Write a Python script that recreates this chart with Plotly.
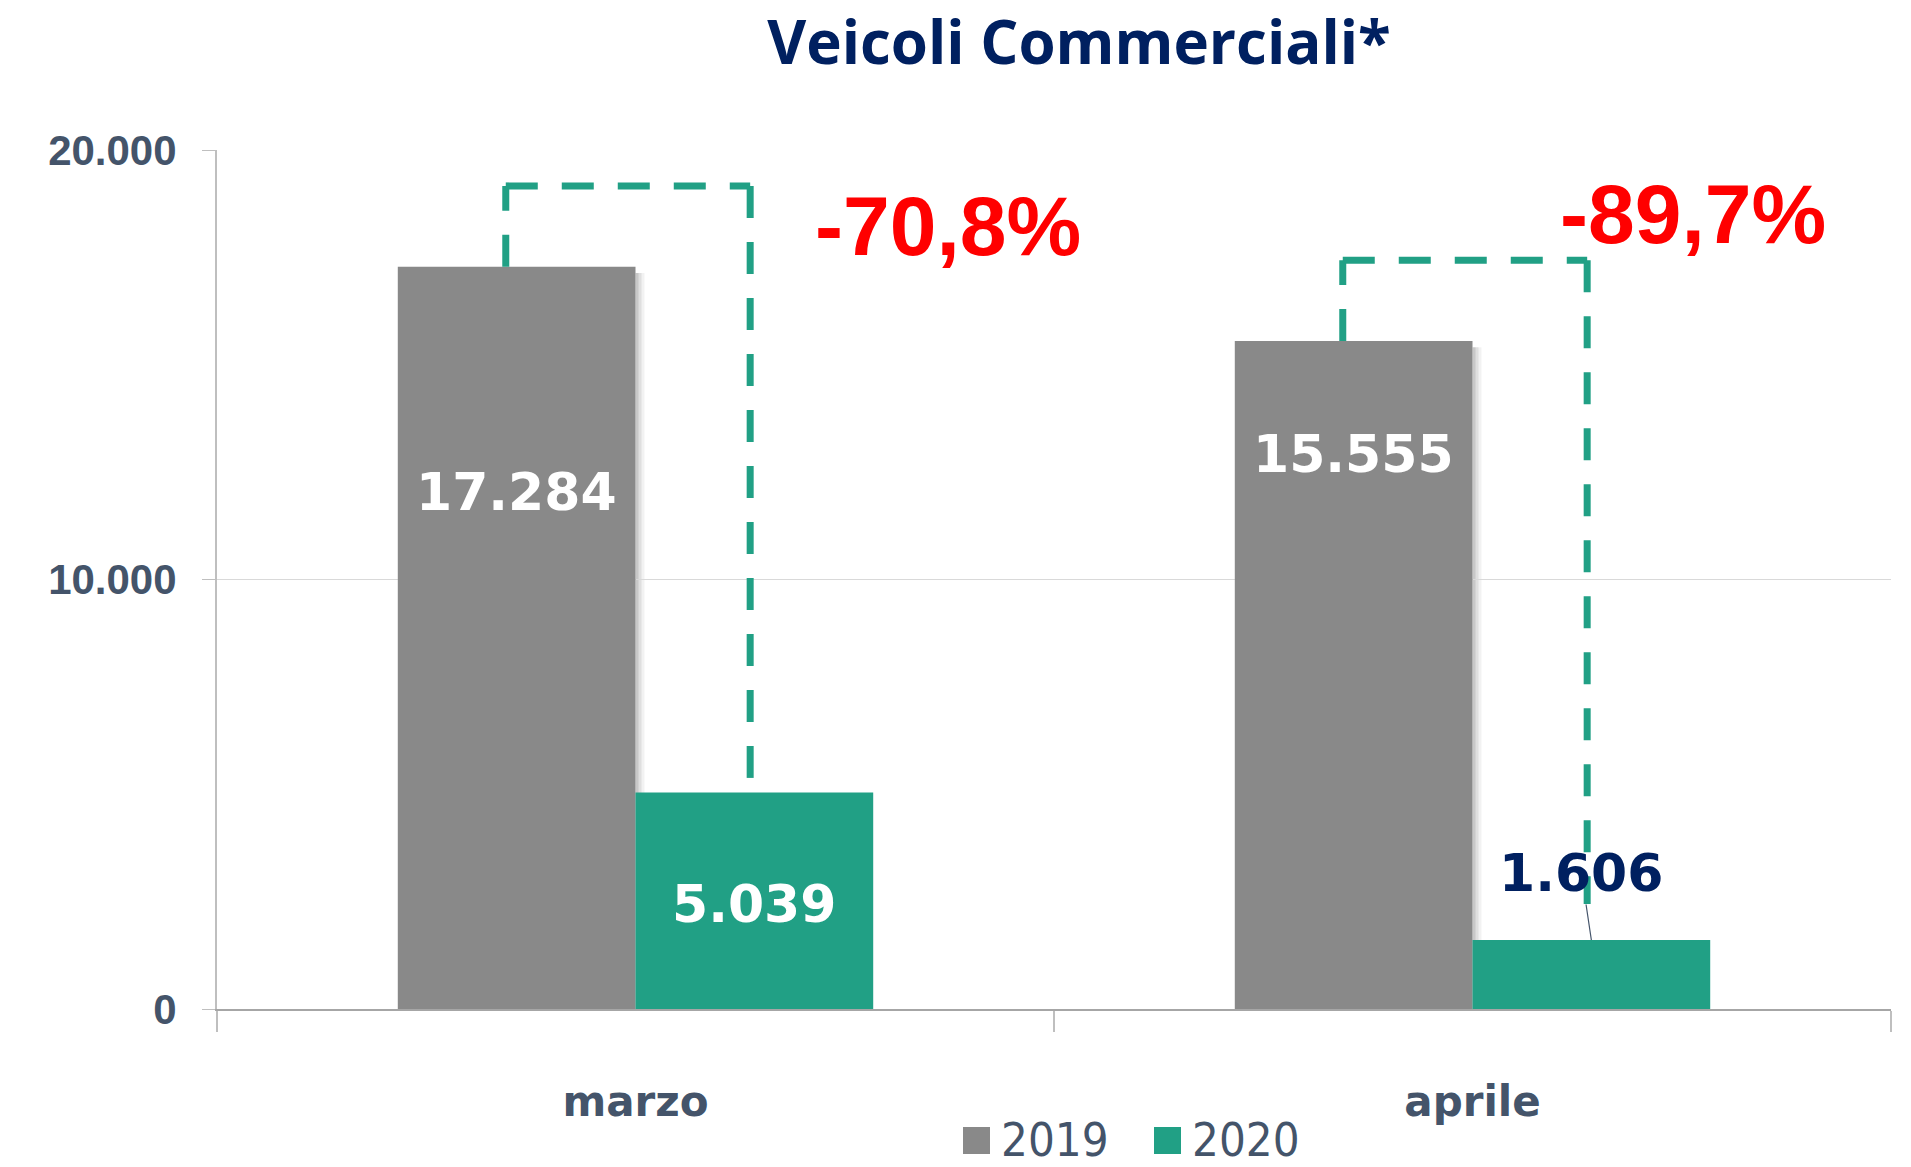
import plotly.graph_objects as go

# ---------------- data ----------------
categories = ["marzo", "aprile"]
series_names = ["2019", "2020"]
values_2019 = [17284, 15555]
values_2020 = [5039, 1606]
y_ticks = [0, 10000, 20000]
title_text = "Veicoli Commerciali*"

# ---------------- style ----------------
GRAY = "#898989"
TEAL = "#21A085"
NAVY = "#002060"
SLATE = "#44546A"
RED = "#FF0000"
series_colors = [GRAY, TEAL]

W, H = 1911, 1167
ML, MR, MT, MB = 217, 20, 150, 158
BARGAP = 0.432
HALF = (1 - BARGAP) / 4          # offset of each bar centre from category centre
BRACKET_RISE = 1880              # how far the dashed bracket sits above the 2019 bar
BRACKET_SHIFT_L = -0.013         # small horizontal nudges of the bracket legs
BRACKET_SHIFT_R = -0.005

# label placement (positions, not data)
label_y_2019 = [12047, 12930]
label_y_2020 = [2442, 3163]
label_outside_2020 = [False, True]
pct_label_x = [0.212, 0.102]     # offset from category centre (category units), left anchor
pct_label_y = [18233, 18510]


def fmt_it(v):
    return f"{v:,}".replace(",", ".")


def fmt_pct(a, b):
    p = (b / a - 1) * 100
    return f"{p:.1f}%".replace(".", ",")


fig = go.Figure()
for name, vals, col in zip(series_names, [values_2019, values_2020], series_colors):
    fig.add_bar(x=categories, y=vals, name=name, marker_color=col,
                marker_line_width=0, showlegend=False, hoverinfo="skip")

shapes = []
annotations = []

for i, (a, b) in enumerate(zip(values_2019, values_2020)):
    # soft shadow on the right of the 2019 bar
    for k, op in [(3, 0.10), (6, 0.08), (9, 0.05)]:
        shapes.append(dict(type="rect", xref="x", yref="y", xsizemode="pixel",
                           xanchor=i, x0=0, x1=k, y0=0, y1=a - 150,
                           fillcolor=f"rgba(0,0,0,{op})", line_width=0, layer="below"))

    # dashed bracket
    top = a + BRACKET_RISE
    xl, xr = i - HALF + BRACKET_SHIFT_L, i + HALF + BRACKET_SHIFT_R
    end = b if not label_outside_2020[i] else label_y_2020[i] - 720
    dash = dict(color=TEAL, width=7, dash="32px,24px")
    shapes.append(dict(type="line", xref="x", yref="y", x0=xl, x1=xl, y0=a, y1=top, line=dash))
    shapes.append(dict(type="line", xref="x", yref="y", x0=xl, x1=xr, y0=top, y1=top, line=dash))
    shapes.append(dict(type="line", xref="x", yref="y", x0=xr, x1=xr, y0=top, y1=end, line=dash))

    # value labels
    annotations.append(dict(x=i - HALF, y=label_y_2019[i], xref="x", yref="y",
                            text=fmt_it(a), showarrow=False,
                            font=dict(family="DejaVu Sans", size=52, color="white", weight="bold")))
    if label_outside_2020[i]:
        annotations.append(dict(x=i + HALF, y=b, xref="x", yref="y",
                                text=fmt_it(b), showarrow=True, arrowhead=0,
                                arrowwidth=1.2, arrowcolor=SLATE, ax=-10, ay=-67,
                                font=dict(family="DejaVu Sans", size=52, color=NAVY, weight="bold")))
    else:
        annotations.append(dict(x=i + HALF, y=label_y_2020[i], xref="x", yref="y",
                                text=fmt_it(b), showarrow=False,
                                font=dict(family="DejaVu Sans", size=52, color="white", weight="bold")))

    # percent change
    annotations.append(dict(x=i + pct_label_x[i], y=pct_label_y[i], xref="x", yref="y",
                            xanchor="left", yanchor="middle", text="<b>" + fmt_pct(a, b) + "</b>",
                            showarrow=False,
                            font=dict(family="Liberation Sans, Arial, sans-serif", size=84, color=RED)))

# manual legend
PW = W - ML - MR
PH = H - MT - MB
leg_x = [963, 1154]
leg_y = 1140
for name, col, lx in zip(series_names, series_colors, leg_x):
    px = (lx - ML) / PW
    py = (H - MB - leg_y) / PH
    shapes.append(dict(type="rect", xref="paper", yref="paper", xsizemode="pixel", ysizemode="pixel",
                       xanchor=px, yanchor=py, x0=0, x1=27, y0=-14, y1=13,
                       fillcolor=col, line_width=0))
    annotations.append(dict(x=px, y=py, xref="paper", yref="paper", xanchor="left", yanchor="middle",
                            xshift=36, yshift=1, showarrow=False, text=name,
                            font=dict(family="Liberation Sans Narrow, DejaVu Sans Condensed, sans-serif",
                                      size=47, color=SLATE)))

fig.update_layout(
    width=W, height=H,
    margin=dict(l=ML, r=MR, t=MT, b=MB),
    paper_bgcolor="white", plot_bgcolor="white",
    separators=",.",
    barmode="group", bargap=BARGAP, bargroupgap=0,
    title=dict(text="<b>" + title_text + "</b>", x=1079 / W, xref="container", xanchor="center",
               y=1 - 43 / H, yref="container", yanchor="middle",
               font=dict(family="Open Sans", size=60, color=NAVY)),
    showlegend=False,
    shapes=shapes,
    annotations=annotations,
    xaxis=dict(type="category", range=[-0.5, 1.5], showline=True, linecolor="#A6A6A6", linewidth=2,
               ticks="outside", tickson="boundaries", ticklen=21, tickwidth=1.5, tickcolor="#BFBFBF",
               ticklabelstandoff=55, showgrid=False,
               tickfont=dict(family="DejaVu Sans", size=42, color=SLATE, weight="bold")),
    yaxis=dict(range=[0, 20000], tickvals=y_ticks, tickformat=",d", showline=True,
               linecolor="#BFBFBF", linewidth=2, showgrid=True, gridcolor="#D9D9D9", gridwidth=1,
               ticks="outside", ticklen=13, tickcolor="#BFBFBF", ticklabelstandoff=17,
               zeroline=False,
               tickfont=dict(family="Liberation Sans, Arial, sans-serif", size=42, color=SLATE,
                             weight="bold")),
)

fig.write_html("out.html", config={"displayModeBar": False},
               post_script="document.body.style.margin='0';")
